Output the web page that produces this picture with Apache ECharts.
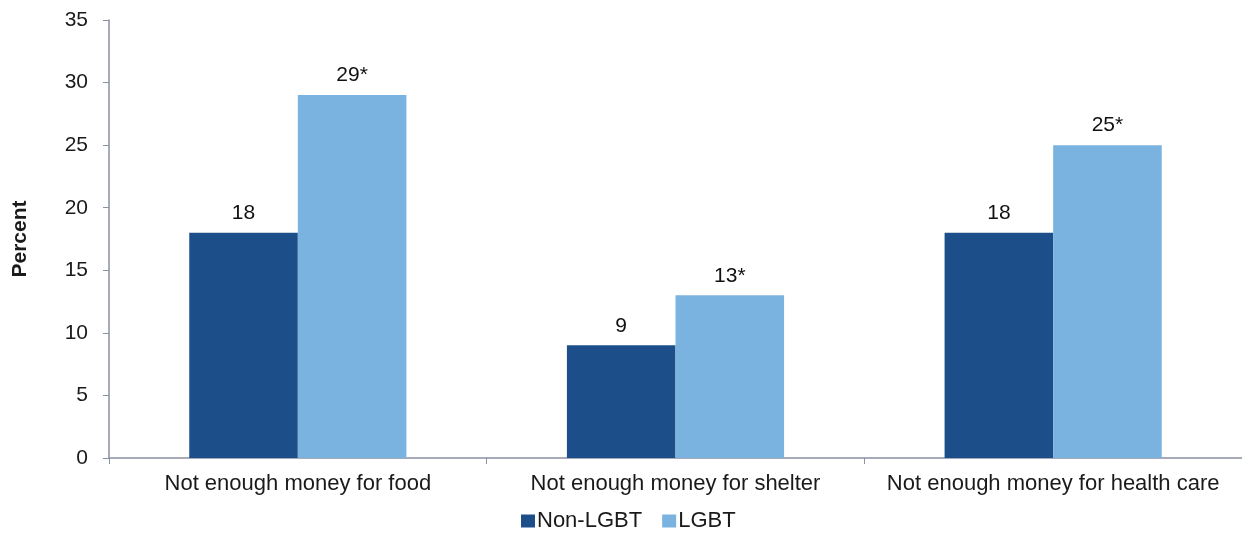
<!DOCTYPE html>
<html>
<head>
<meta charset="utf-8">
<script src="https://cdn.jsdelivr.net/npm/echarts@6/dist/echarts.min.js"></script>
<style>html,body{margin:0;padding:0;background:#fff;}#c{width:1242px;height:534px;}</style>
</head>
<body>
<div id="c"></div>
<script>
const categories = ['Not enough money for food', 'Not enough money for shelter', 'Not enough money for health care'];
const nonLgbt = [18, 9, 18];
const lgbt = [29, 13, 25];
const lgbtLabels = ['29*', '13*', '25*'];
const yTicks = [0, 5, 10, 15, 20, 25, 30, 35];

const chart = echarts.init(document.getElementById('c'));
const font = 'Liberation Sans, Arial, sans-serif';
const axisColor = '#8b90a3';
chart.setOption({
  animation: false,
  grid: { left: 109, right: -6, top: 20, bottom: 76 },
  legend: {
    data: ['Non-LGBT', 'LGBT'],
    top: 510,
    left: 521,
    itemWidth: 14,
    itemHeight: 13,
    itemGap: 20,
    icon: 'rect',
    padding: 0,
    textStyle: { fontFamily: font, fontSize: 22, color: '#1a1a1a', padding: [0, 0, 0, -3] }
  },
  xAxis: {
    type: 'category',
    data: categories,
    axisLine: { lineStyle: { color: axisColor, width: 1.5 } },
    axisTick: { show: true, length: 6, interval: 0, lineStyle: { color: axisColor } },
    axisLabel: { fontFamily: font, fontSize: 22, color: '#1a1a1a', margin: 15, interval: 0 }
  },
  yAxis: {
    type: 'value',
    min: 0, max: 35, interval: 5,
    name: 'Percent',
    nameLocation: 'middle',
    nameGap: 78,
    nameTextStyle: { fontFamily: font, fontSize: 21, fontWeight: 'bold', color: '#1a1a1a' },
    axisLine: { show: true, lineStyle: { color: axisColor, width: 1.5 } },
    axisTick: { show: true, length: 6, lineStyle: { color: axisColor } },
    splitLine: { show: false },
    axisLabel: { fontFamily: font, fontSize: 21, color: '#1a1a1a', margin: 21,
      formatter: v => yTicks.includes(v) ? String(v) : '' }
  },
  series: [
    {
      name: 'Non-LGBT', type: 'bar', data: nonLgbt,
      barGap: '0%', barCategoryGap: '42.5%',
      itemStyle: { color: '#1c4f8a' },
      label: { show: true, position: 'top', distance: 9, fontFamily: font, fontSize: 21, color: '#111' }
    },
    {
      name: 'LGBT', type: 'bar', data: lgbt,
      itemStyle: { color: '#7bb3e0' },
      label: { show: true, position: 'top', distance: 9, fontFamily: font, fontSize: 21, color: '#111',
        formatter: p => lgbtLabels[p.dataIndex] }
    }
  ]
});
</script>
</body>
</html>
